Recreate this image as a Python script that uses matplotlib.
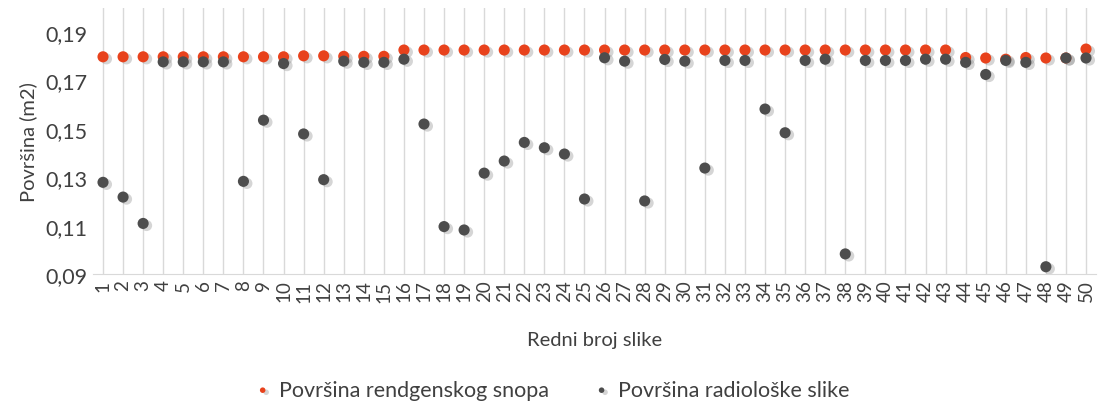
import numpy as np
import matplotlib.pyplot as plt
import matplotlib.patheffects as pe

plt.rcParams['font.family'] = ['Lato', 'DejaVu Sans']

# ── Podaci ────────────────────────────────────────────────────────────────────
slike = list(range(1, 51))

snop = [0.1798, 0.1798, 0.1798, 0.1798, 0.1798, 0.1798, 0.1798, 0.1798, 0.1798, 0.1798,
        0.1802, 0.1802, 0.1800, 0.1800, 0.1800, 0.1826, 0.1826, 0.1826, 0.1826, 0.1826,
        0.1826, 0.1826, 0.1826, 0.1826, 0.1826, 0.1826, 0.1826, 0.1826, 0.1826, 0.1826,
        0.1826, 0.1826, 0.1826, 0.1826, 0.1826, 0.1826, 0.1826, 0.1826, 0.1826, 0.1826,
        0.1826, 0.1826, 0.1826, 0.1795, 0.1793, 0.1788, 0.1795, 0.1793, 0.1793, 0.1830]

radio = [0.1279, 0.1218, 0.1109, 0.1777, 0.1777, 0.1777, 0.1777, 0.1283, 0.1536, 0.1770,
         0.1479, 0.1290, 0.1780, 0.1775, 0.1775, 0.1788, 0.1520, 0.1096, 0.1082, 0.1317,
         0.1367, 0.1444, 0.1422, 0.1396, 0.1210, 0.1794, 0.1780, 0.1202, 0.1787, 0.1780,
         0.1338, 0.1783, 0.1783, 0.1582, 0.1484, 0.1783, 0.1788, 0.0983, 0.1783, 0.1783,
         0.1783, 0.1788, 0.1788, 0.1775, 0.1725, 0.1783, 0.1775, 0.0930, 0.1793, 0.1793]

C_SNOP  = "#E8421C"
C_RADIO = "#4D4D4D"

fig = plt.figure(figsize=(10.99, 4.06), dpi=100)
ax = fig.add_axes([0.0846, 0.3227, 0.9127, 0.6553])

sjena = [pe.SimplePatchShadow(offset=(2.5, -1.5), shadow_rgbFace="#888888", alpha=0.35),
         pe.Normal()]
ax.scatter(slike, snop, s=64, color=C_SNOP, zorder=3, linewidths=0,
           label="Površina rendgenskog snopa", path_effects=sjena)
ax.scatter(slike, radio, s=64, color=C_RADIO, zorder=4, linewidths=0,
           label="Površina radiološke slike", path_effects=sjena)

ax.set_xlim(0.5, 50.5)
ax.set_ylim(0.09, 0.2)
ax.set_yticks(np.arange(0.09, 0.1901, 0.02))
ax.set_yticklabels([f"{v:.2f}".replace(".", ",") for v in np.arange(0.09, 0.1901, 0.02)],
                   fontsize=15.5, color="#404040")
ax.set_xticks(slike)
ax.set_xticklabels([str(s) for s in slike], rotation=90, fontsize=13.5, color="#404040")
ax.tick_params(axis="both", length=0, pad=4)

ax.grid(axis="x", color="#d9d9d9", lw=1)
ax.set_axisbelow(True)
for s in ["top", "right", "left"]:
    ax.spines[s].set_visible(False)
ax.spines["bottom"].set_color("#d9d9d9")

ax.set_ylabel("Površina (m2)", fontsize=14.5, color="#404040", labelpad=6)
ax.set_xlabel("Redni broj slike", fontsize=14.5, color="#404040", labelpad=21)

fig.legend(loc="lower center", bbox_to_anchor=(0.5, -0.035), ncol=2, frameon=False,
           fontsize=15.5, handletextpad=0.15, handlelength=1.2, columnspacing=1.85,
           markerscale=0.5, labelcolor="#404040")

fig.savefig("out.png", dpi=100)
